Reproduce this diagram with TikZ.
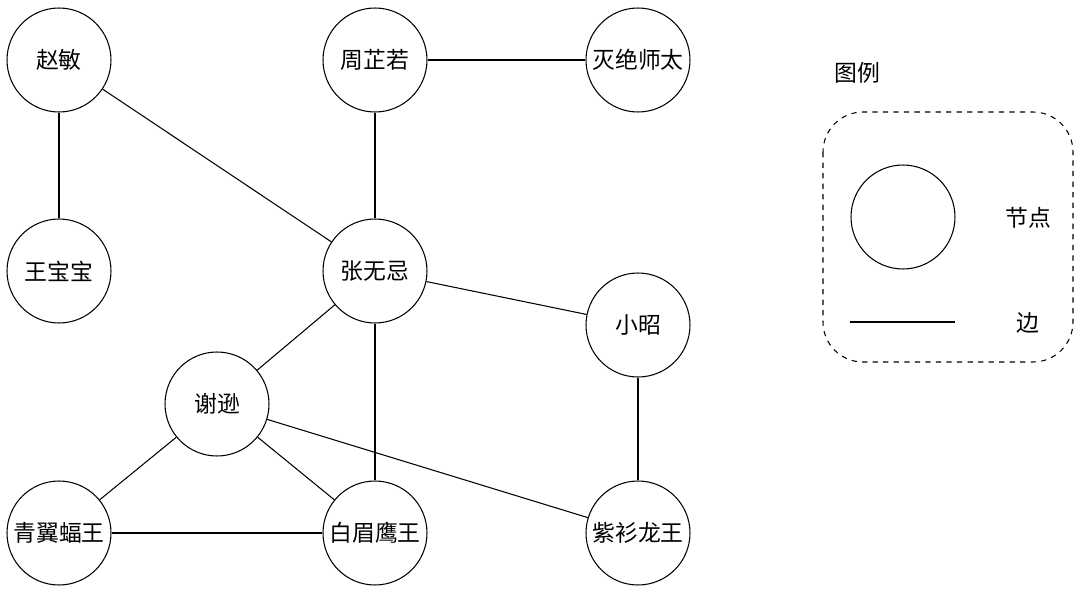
\documentclass[tikz,border=0pt]{standalone}
\usepackage{fontspec}
\newfontfamily\cjk{Noto Sans CJK SC}
\begin{document}
\begin{tikzpicture}[
    x=0.02cm, y=-0.02cm, % 以像素为单位
    line width=0.6pt, % 统一线宽
    person/.style={
        draw, circle,
        minimum size=2.08cm,
        inner sep=0pt
    },
    every node/.style={
        font=\cjk\fontsize{13}{15}\selectfont
    }
]
  \useasboundingbox (0,0) rectangle (1080,592);

  % 人物节点
  \node[person] (zhaomin)   at (59,60)   {赵敏};
  \node[person] (zhouzr)    at (375,60)  {周芷若};
  \node[person] (miejue)    at (638,60)  {灭绝师太};
  \node[person] (wangbb)    at (59,271)  {王宝宝};
  \node[person] (zhangwj)   at (375,271) {张无忌};
  \node[person] (xiaozhao)  at (638,325) {小昭};
  \node[person] (xiexun)    at (217,404) {谢逊};
  \node[person] (qingyi)    at (59,533)  {青翼蝠王};
  \node[person] (baimei)    at (375,533) {白眉鹰王};
  \node[person] (zishan)    at (638,533) {紫衫龙王};

  % 关系边
  \draw (zhaomin) -- (wangbb);
  \draw (zhaomin) -- (zhangwj);
  \draw (zhouzr) -- (miejue);
  \draw (zhouzr) -- (zhangwj);
  \draw (zhangwj) -- (xiaozhao);
  \draw (zhangwj) -- (xiexun);
  \draw (zhangwj) -- (baimei);
  \draw (xiaozhao) -- (zishan);
  \draw (xiexun) -- (qingyi);
  \draw (xiexun) -- (baimei);
  \draw (xiexun) -- (zishan);
  \draw (qingyi) -- (baimei);

  % 图例
  \node (legendtitle) at (857,73) {图例};
  \draw[dashed, rounded corners=0.8cm] (823,112) rectangle (1073,362);
  \node[person] (legendnode) at (903,217) {};
  \node (nodelabel) at (1028,218) {节点};
  \coordinate (edgeA) at (850,322);
  \coordinate (edgeB) at (955,322);
  \draw (edgeA) -- (edgeB);
  \node (edgelabel) at (1028,323) {边};
\end{tikzpicture}
\end{document}
